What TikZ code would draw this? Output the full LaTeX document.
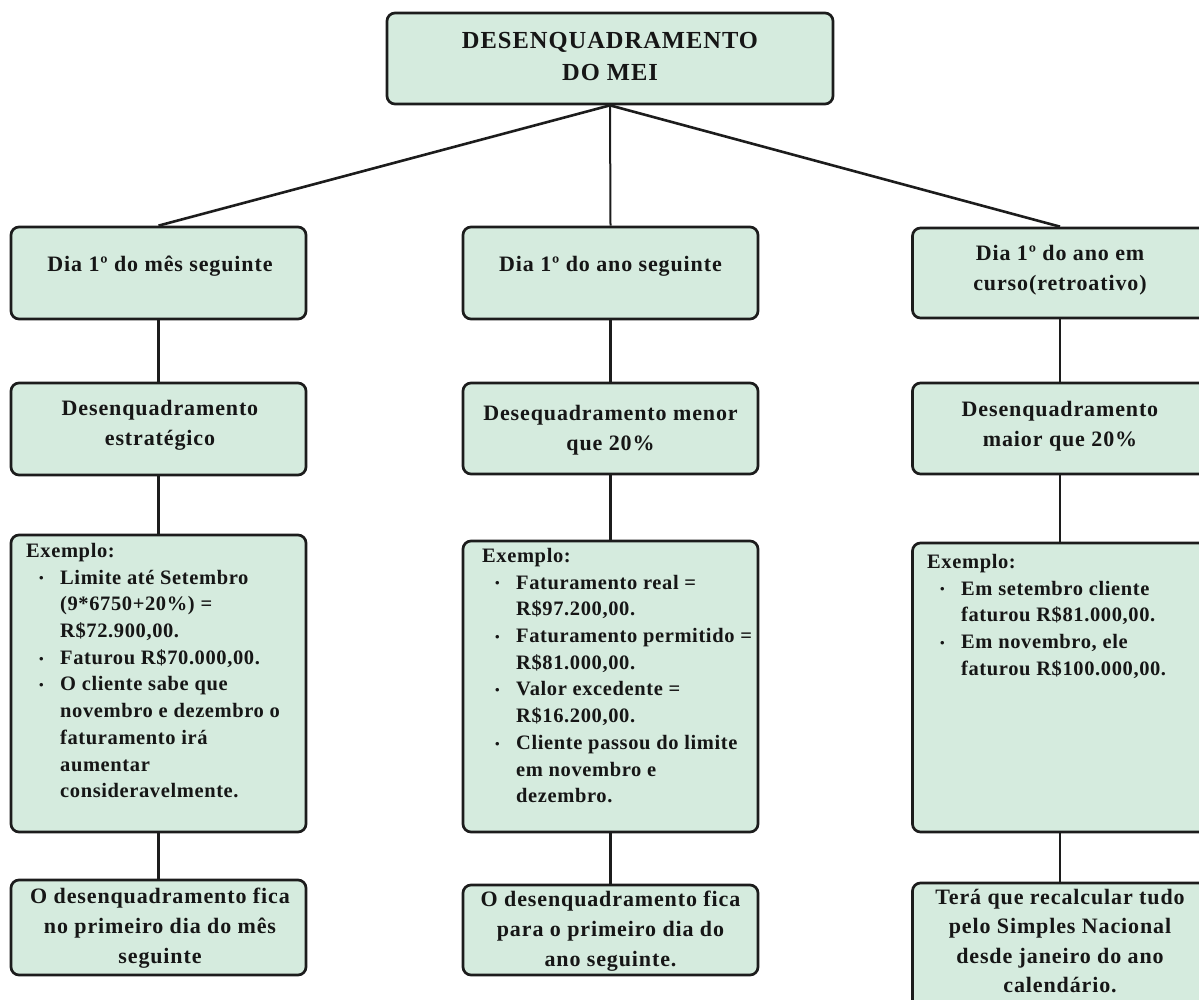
\documentclass[tikz,border=0pt]{standalone}
\usepackage{fontspec}
\setmainfont{Liberation Serif}[LetterSpace=4]
\newfontfamily\exfont{Liberation Serif}[LetterSpace=3]
\definecolor{boxfill}{RGB}{213,235,222}
\definecolor{boxline}{RGB}{28,28,28}
\definecolor{txt}{RGB}{22,22,22}
\newcommand\bul{\raisebox{1.2pt}{\fontsize{13}{13}\selectfont\textbullet}}
\newcommand\bi{\makebox[34pt][l]{\hspace{13pt}\bul}}
\newcommand\ci{\hspace*{34pt}}
\begin{document}
\begin{tikzpicture}[x=1pt,y=-1pt,
  box/.style={draw=boxline, fill=boxfill, line width=2.7pt, rounded corners=8pt,
    minimum width=295pt, inner sep=0pt},
  ttl/.style={font=\fontsize{22}{30}\selectfont\bfseries, align=center, inner sep=0pt, text=txt},
  ex/.style={font=\exfont\fontsize{20.5}{26.7}\selectfont\bfseries, align=left,
    inner sep=0pt, anchor=north west, text=txt},
  conn/.style={line width=2.6pt, draw=boxline}]
\useasboundingbox (0,0) rectangle (1199,999);

% boxes
\node[box, minimum width=446pt, minimum height=91pt] (top) at (610,58.5) {};

\node[box, minimum height=92pt] (l1) at (158.5,273) {};
\node[box, minimum height=92pt] (l2) at (158.5,429) {};
\node[box, minimum height=297pt] (l3) at (158.5,683.5) {};
\node[box, minimum height=95pt] (l4) at (158.5,927.5) {};

\node[box, minimum height=92pt] (m1) at (610.5,273) {};
\node[box, minimum height=91pt] (m2) at (610.5,428.5) {};
\node[box, minimum height=291pt] (m3) at (610.5,686.5) {};
\node[box, minimum height=90pt] (m4) at (610.5,930) {};

\node[box, minimum height=90pt] (r1) at (1060,273) {};
\node[box, minimum height=91pt] (r2) at (1060,428.5) {};
\node[box, minimum height=289pt] (r3) at (1060,687.5) {};
\node[box, minimum height=137pt] (r4) at (1060,951.5) {};

% connectors
\draw[conn] (top.south) -- (l1.north);
\draw[conn, line width=2pt] (top.south) -- (m1.north);
\draw[conn] (top.south) -- (r1.north);
\foreach \c in {l,m,r}{
  \draw[conn] (\c1.south) -- (\c2.north);
  \draw[conn] (\c2.south) -- (\c3.north);
  \draw[conn] (\c3.south) -- (\c4.north);
}

% texts
\node[ttl, font=\fontsize{24.5}{32}\selectfont\bfseries] (t0) at (610,56.5) {DESENQUADRAMENTO\\DO MEI};

\node[ttl] (l1t) at (160,266) {Dia 1º do mês seguinte};
\node[ttl] (l2t) at (160,425) {Desenquadramento\\estratégico};
\node[ttl] (l4t) at (160,928.5) {O desenquadramento fica\\no primeiro dia do mês\\seguinte};

\node[ttl] (m1t) at (610.5,266) {Dia 1º do ano seguinte};
\node[ttl] (m2t) at (610.5,430) {Desequadramento menor\\que 20\%};
\node[ttl] (m4t) at (610.5,931) {O desenquadramento fica\\para o primeiro dia do\\ano seguinte.};

\node[ttl] (r1t) at (1060,270.5) {Dia 1º do ano em\\curso(retroativo)};
\node[ttl] (r2t) at (1060,426) {Desenquadramento\\maior que 20\%};
\node[ttl, font=\fontsize{22}{29.5}\selectfont\bfseries] (r4t) at (1060,941) {Terá que recalcular tudo\\pelo Simples Nacional\\desde janeiro do ano\\calendário.};

\node[ex] (l3t) at (26,543) {Exemplo:\\
\bi Limite até Setembro\\
\ci (9*6750+20\%) =\\
\ci R\$72.900,00.\\
\bi Faturou R\$70.000,00.\\
\bi O cliente sabe que\\
\ci novembro e dezembro o\\
\ci faturamento irá\\
\ci aumentar\\
\ci consideravelmente.};

\node[ex] (m3t) at (482,548) {Exemplo:\\
\bi Faturamento real =\\
\ci R\$97.200,00.\\
\bi Faturamento permitido =\\
\ci R\$81.000,00.\\
\bi Valor excedente =\\
\ci R\$16.200,00.\\
\bi Cliente passou do limite\\
\ci em novembro e\\
\ci dezembro.};

\node[ex] (r3t) at (927,554) {Exemplo:\\
\bi Em setembro cliente\\
\ci faturou R\$81.000,00.\\
\bi Em novembro, ele\\
\ci faturou R\$100.000,00.};
\end{tikzpicture}
\end{document}
